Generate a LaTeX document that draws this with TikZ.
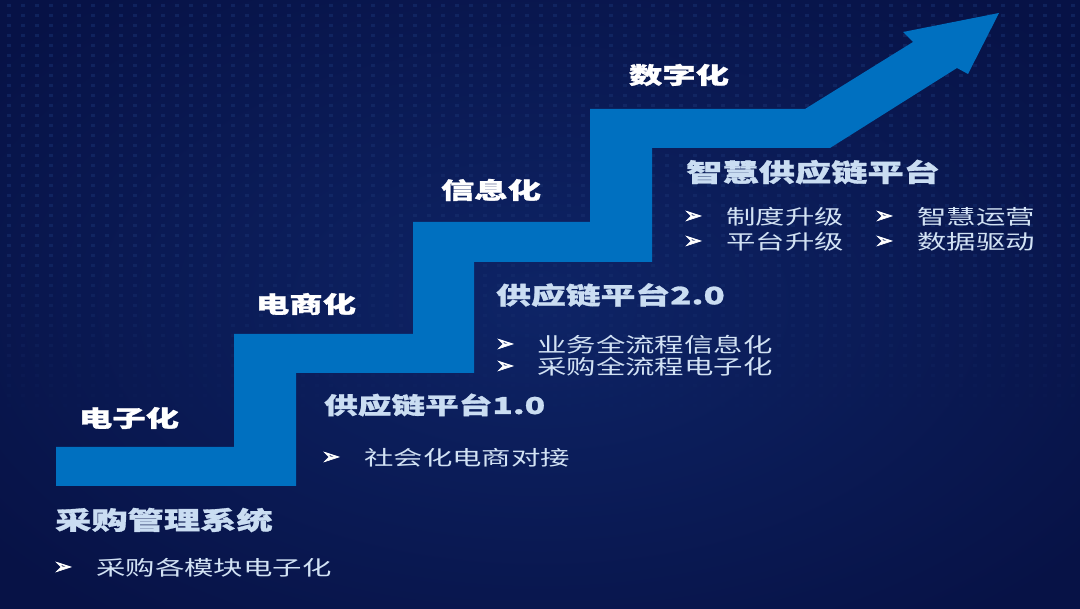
\documentclass[tikz,border=0pt]{standalone}
\usepackage{fontspec}
\newfontfamily\cjk[FakeStretch=1.45,BoldFeatures={FakeBold=1.2}]{Noto Sans CJK SC}
\newfontfamily\dv[FakeBold=2.5]{DejaVu Sans}
\definecolor{bgin}{HTML}{0E2466}
\definecolor{bgout}{HTML}{071246}
\definecolor{dotc}{HTML}{17306F}
\definecolor{stairc}{HTML}{0070C0}
\definecolor{headc}{HTML}{CADDF2}
\definecolor{itemc}{HTML}{D2E2F4}
\begin{document}
\begin{tikzpicture}[x=1pt,y=-1pt,
  stage/.style={font=\cjk\bfseries\fontsize{23}{23}\selectfont, text=white, inner sep=0pt, anchor=center},
  head/.style={font=\cjk\bfseries\fontsize{#1}{#1}\selectfont, text=headc, inner sep=0pt, anchor=west},
  item/.style={font=\cjk\fontsize{20.3}{20.3}\selectfont, text=itemc, inner sep=0pt, anchor=west},
  bul/.style={font=\dv\fontsize{22}{22}\selectfont, text=white, inner sep=0pt, anchor=center}]
\useasboundingbox (0,0) rectangle (1080,609);
% background
\shade[inner color=bgin, outer color=bgout] (-150,-100) rectangle (1230,709);
% dot grid, fading out downwards
\foreach \j in {0,...,41}{
  \pgfmathsetmacro{\op}{0.55*min(1,(42-\j)/18)}
  \foreach \i in {0,...,76}{
    \fill[dotc, opacity=\op] (7+14*\i,4+10*\j) rectangle ++(4,3);
  }
}
% staircase arrow
\fill[stairc] (56,447) -- (234,447) -- (234,334) -- (413,334) -- (413,222)
  -- (590,222) -- (590,109) -- (805,109) -- (913,42) -- (903,32) -- (999,13)
  -- (968,74) -- (957,68) -- (830,148) -- (652,148) -- (652,262) -- (474,262)
  -- (474,373) -- (296,373) -- (296,486) -- (56,486) -- cycle;
% stage labels
\node[stage] (s1) at (129,418) {电子化};
\node[stage] (s2) at (306,304) {电商化};
\node[stage] (s3) at (491,190) {信息化};
\node[stage] (s4) at (679,75) {数字化};
% headings
\node[head=25] (h1) at (55,520) {采购管理系统};
\node[head=23.2] (h2) at (324,405) {供应链平台1.0};
\node[head=24] (h3) at (496,295) {供应链平台2.0};
\node[head=25] (h4) at (686,172) {智慧供应链平台};
% items
\node[bul] (b1) at (63,568) {➢};
\node[item] (i1) at (96,568) {采购各模块电子化};
\node[bul] (b2) at (331,458) {➢};
\node[item] (i2) at (364,458) {社会化电商对接};
\node[bul] (b3) at (505,345) {➢};
\node[item] (i3) at (537,345) {业务全流程信息化};
\node[bul] (b4) at (505,367) {➢};
\node[item] (i4) at (537,367) {采购全流程电子化};
\node[bul] (b5) at (693,217) {➢};
\node[item] (i5) at (726,217) {制度升级};
\node[bul] (b6) at (693,242) {➢};
\node[item] (i6) at (726,242) {平台升级};
\node[bul] (b7) at (884,217) {➢};
\node[item] (i7) at (917,217) {智慧运营};
\node[bul] (b8) at (884,242) {➢};
\node[item] (i8) at (917,242) {数据驱动};
\end{tikzpicture}
\end{document}
